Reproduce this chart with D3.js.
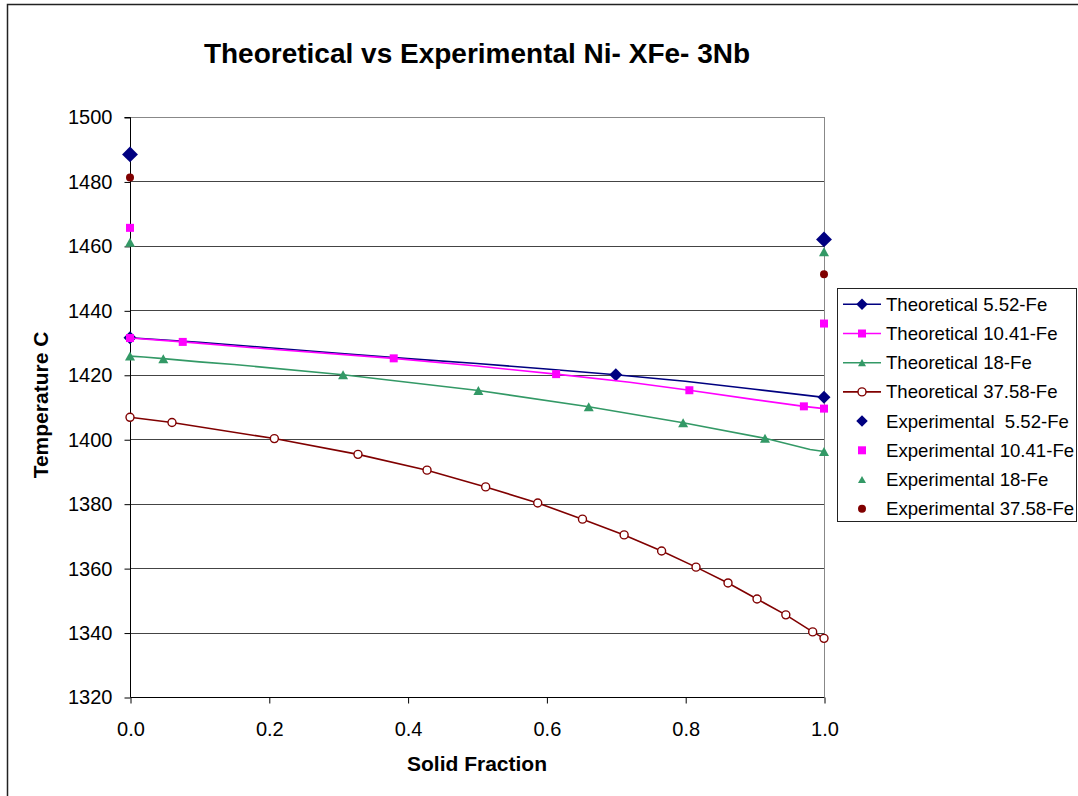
<!DOCTYPE html>
<html>
<head>
<meta charset="utf-8">
<script src="https://cdn.jsdelivr.net/npm/d3@7"></script>
<style>
  body { margin: 0; background: #fff; }
  svg { font-family: Arial, "Liberation Sans", sans-serif; }
</style>
</head>
<body>
<svg id="chart"></svg>
<script>
// theoretical curves (solid fraction vs temperature), 1 = marker drawn
const theo552Frac = [0, 0.1, 0.2, 0.3, 0.4, 0.5, 0.6, 0.7, 0.8, 0.9, 1.0];
const theo552Temp = [1431.5, 1430.1, 1428.4, 1426.7, 1425.0, 1423.5, 1421.8, 1420.0, 1418.0, 1415.5, 1413.0];
const theo552Mark = [1, 0, 0, 0, 0, 0, 0, 1, 0, 0, 1];

const theo1041Frac = [0, 0.076, 0.2, 0.38, 0.5, 0.614, 0.72, 0.806, 0.9, 0.971, 1.0];
const theo1041Temp = [1431.4, 1430.2, 1428.0, 1425.1, 1422.7, 1420.2, 1417.7, 1415.2, 1412.3, 1410.2, 1409.5];
const theo1041Mark = [1, 1, 0, 1, 0, 1, 0, 1, 0, 1, 1];

const theo18Frac = [0, 0.02, 0.048, 0.1, 0.15, 0.307, 0.502, 0.661, 0.797, 0.915, 0.98, 1.0];
const theo18Temp = [1425.8, 1425.5, 1425.0, 1424.0, 1423.2, 1420.0, 1415.1, 1410.1, 1405.1, 1400.3, 1396.8, 1396.2];
const theo18Mark = [1, 0, 1, 0, 0, 1, 1, 1, 1, 1, 0, 1];

const theo3758Frac = [0, 0.0605, 0.208, 0.3285, 0.428, 0.5125, 0.5875, 0.652, 0.712, 0.766, 0.8156, 0.8617, 0.9035, 0.945, 0.9837, 1.0];
const theo3758Temp = [1406.8, 1405.2, 1400.2, 1395.3, 1390.4, 1385.2, 1380.2, 1375.2, 1370.3, 1365.3, 1360.3, 1355.4, 1350.4, 1345.5, 1340.2, 1338.2];

// experimental points at start and end of solidification
const expFrac = [0, 1];
const exp552Temp = [1488.4, 1462.0];
const exp1041Temp = [1465.6, 1435.9];
const exp18Temp = [1461.1, 1458.2];
const exp3758Temp = [1481.2, 1451.2];

const yTicks = [1320, 1340, 1360, 1380, 1400, 1420, 1440, 1460, 1480, 1500];
const xTicks = [0, 0.2, 0.4, 0.6, 0.8, 1.0];

const W = 1078, H = 796;
const plot = { left: 130, right: 824, top: 117, bottom: 697 };

const svg = d3.select('#chart').attr('width', W).attr('height', H);

// outer chart frame (runs past the picture on the right and bottom)
svg.append('rect')
  .attr('x', 7.5).attr('y', 4.5).attr('width', 1200).attr('height', 900)
  .attr('fill', 'none').attr('stroke', '#222').attr('stroke-width', 1.5);

const x = d3.scaleLinear().domain([0, 1]).range([plot.left, plot.right]);
const y = d3.scaleLinear().domain([1320, 1500]).range([plot.bottom, plot.top]);

// gridlines
svg.append('g').selectAll('line').data(yTicks.slice(1)).enter().append('line')
  .attr('x1', plot.left).attr('x2', plot.right)
  .attr('y1', d => Math.round(y(d)) + 0.5).attr('y2', d => Math.round(y(d)) + 0.5)
  .attr('stroke', d => d === 1500 ? '#888' : '#444').attr('stroke-width', 1);

// right border of plot area
svg.append('line')
  .attr('x1', plot.right + 0.5).attr('x2', plot.right + 0.5)
  .attr('y1', plot.top).attr('y2', plot.bottom)
  .attr('stroke', '#888');

// axes
const yAxis = svg.append('g')
  .attr('transform', `translate(${plot.left + 0.5},0.5)`)
  .call(d3.axisLeft(y).tickValues(yTicks).tickSize(6).tickPadding(12).tickFormat(d3.format('d')));
const xAxis = svg.append('g')
  .attr('transform', `translate(0.5,${plot.bottom + 0.5})`)
  .call(d3.axisBottom(x).tickValues(xTicks).tickSize(6).tickPadding(18).tickFormat(d3.format('.1f')));
[yAxis, xAxis].forEach(ax => {
  ax.select('.domain').attr('stroke', '#000');
  ax.selectAll('.tick line').attr('stroke', '#000');
  ax.selectAll('.tick text').attr('fill', '#000').style('font-size', '20px')
    .style('font-family', 'Arial, "Liberation Sans", sans-serif');
});
yAxis.select('.domain').attr('d', `M-6,${plot.top}H0V${plot.bottom}`);
xAxis.select('.domain').attr('d', `M${plot.left},0H${plot.right}`);

// marker shapes
function marker(g, type, color, s) {
  if (type === 'diamond') {
    const r = s * 0.72;
    g.append('path').attr('d', `M0,${-r}L${r},0L0,${r}L${-r},0Z`).attr('fill', color);
  } else if (type === 'square') {
    g.append('rect').attr('x', -s / 2).attr('y', -s / 2).attr('width', s).attr('height', s).attr('fill', color);
  } else if (type === 'triangle') {
    const h = s * 0.9;
    g.append('path').attr('d', `M0,${-h / 2}L${s / 2},${h / 2}L${-s / 2},${h / 2}Z`).attr('fill', color);
  } else if (type === 'ring') {
    g.append('circle').attr('r', s / 2).attr('fill', '#fff').attr('stroke', color).attr('stroke-width', 1.4);
  } else if (type === 'dot') {
    g.append('circle').attr('r', s / 2).attr('fill', color);
  }
}

const theoSeries = [
  { name: 'Theoretical 5.52-Fe', color: '#000080', type: 'diamond', size: 9, frac: theo552Frac, temp: theo552Temp, mark: theo552Mark },
  { name: 'Theoretical 10.41-Fe', color: '#FF00FF', type: 'square', size: 8, frac: theo1041Frac, temp: theo1041Temp, mark: theo1041Mark },
  { name: 'Theoretical 18-Fe', color: '#339966', type: 'triangle', size: 10, frac: theo18Frac, temp: theo18Temp, mark: theo18Mark },
  { name: 'Theoretical 37.58-Fe', color: '#800000', type: 'ring', size: 8, frac: theo3758Frac, temp: theo3758Temp, mark: theo3758Frac.map(() => 1) }
];
const expSeries = [
  { name: 'Experimental  5.52-Fe', color: '#000080', type: 'diamond', size: 11, temp: exp552Temp },
  { name: 'Experimental 10.41-Fe', color: '#FF00FF', type: 'square', size: 8, temp: exp1041Temp },
  { name: 'Experimental 18-Fe', color: '#339966', type: 'triangle', size: 10, temp: exp18Temp },
  { name: 'Experimental 37.58-Fe', color: '#800000', type: 'dot', size: 8, temp: exp3758Temp }
];

const line = d3.line().x(d => x(d[0])).y(d => y(d[1]));

theoSeries.forEach(s => {
  const pts = s.frac.map((f, i) => [f, s.temp[i], s.mark[i]]);
  svg.append('path').datum(pts).attr('d', line)
    .attr('fill', 'none').attr('stroke', s.color).attr('stroke-width', 1.6);
  pts.filter(p => p[2]).forEach(p => {
    marker(svg.append('g').attr('transform', `translate(${x(p[0])},${y(p[1])})`), s.type, s.color, s.size);
  });
});

expSeries.forEach(s => {
  expFrac.forEach((f, i) => {
    marker(svg.append('g').attr('transform', `translate(${x(f)},${y(s.temp[i])})`), s.type, s.color, s.size);
  });
});

// title and axis titles
svg.append('text').attr('x', 477).attr('y', 63).attr('text-anchor', 'middle')
  .style('font-size', '28px').style('font-weight', 'bold')
  .text('Theoretical vs Experimental Ni- XFe- 3Nb');
svg.append('text').attr('x', 477).attr('y', 771).attr('text-anchor', 'middle')
  .style('font-size', '21px').style('font-weight', 'bold')
  .text('Solid Fraction');
svg.append('text').attr('transform', 'translate(48,405) rotate(-90)').attr('text-anchor', 'middle')
  .style('font-size', '21px').style('font-weight', 'bold')
  .text('Temperature C');

// legend
const legend = svg.append('g');
legend.append('rect').attr('x', 837.5).attr('y', 288.5).attr('width', 239).attr('height', 233)
  .attr('fill', '#fff').attr('stroke', '#222');
const allSeries = theoSeries.concat(expSeries);
allSeries.forEach((s, i) => {
  const cy = 304.3 + i * 29.2;
  if (i < 4) {
    legend.append('line').attr('x1', 843).attr('x2', 881).attr('y1', cy).attr('y2', cy)
      .attr('stroke', s.color).attr('stroke-width', 1.6);
  }
  marker(legend.append('g').attr('transform', `translate(862,${cy})`), s.type, s.color, Math.min(s.size, 8));
  legend.append('text').attr('x', 886).attr('y', cy).attr('dy', '0.35em')
    .attr('xml:space', 'preserve').style('white-space', 'pre')
    .style('font-size', '18.6px').text(s.name);
});
</script>
</body>
</html>
